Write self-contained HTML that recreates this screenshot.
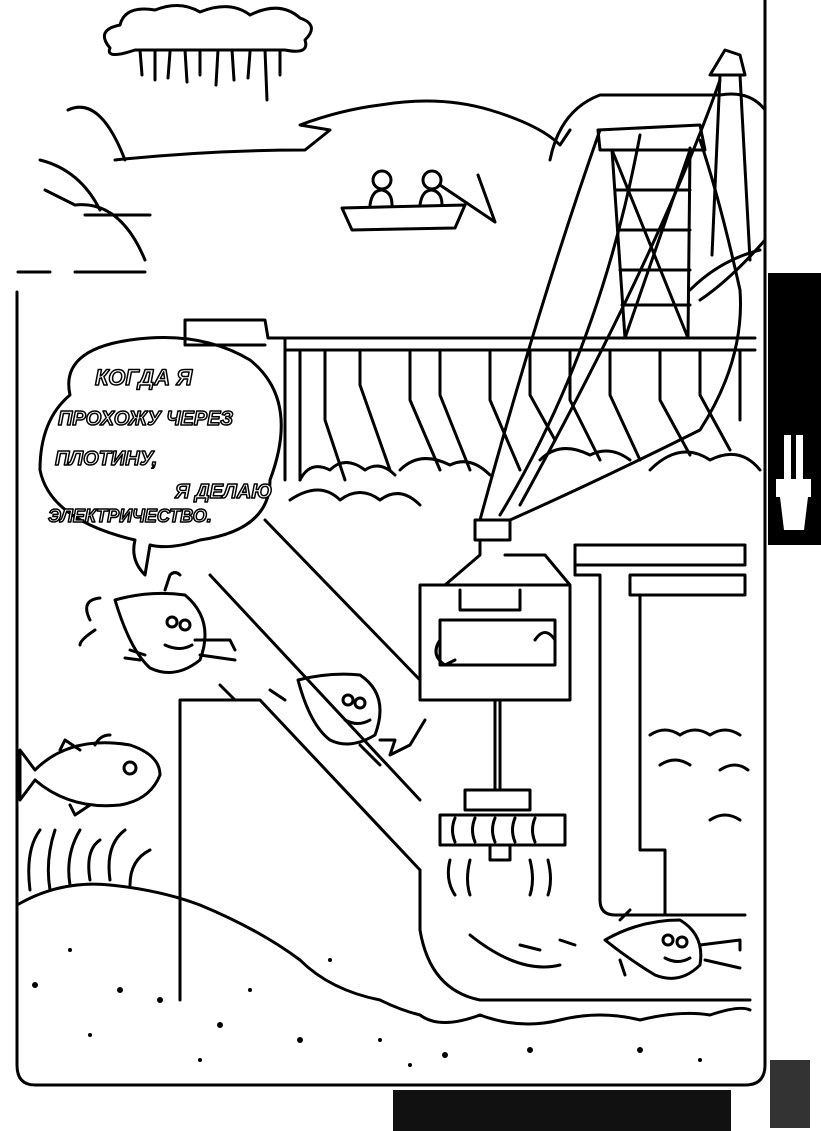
<!DOCTYPE html>
<html><head><meta charset="utf-8"><style>
html,body{margin:0;padding:0;background:#fff;width:821px;height:1131px;overflow:hidden}
svg{display:block}
</style></head><body>
<svg width="821" height="1131" viewBox="0 0 821 1131" xmlns="http://www.w3.org/2000/svg" fill="none" stroke="#000" stroke-width="3" stroke-linecap="round" stroke-linejoin="round">
<rect x="768" y="273" width="53" height="272" fill="#000" stroke="none"/>
<rect x="393" y="1090" width="338" height="41" fill="#111" stroke="none"/>
<rect x="770" y="1060" width="40" height="68" fill="#333" stroke="none"/>
<g fill="#fff" stroke="none">
<rect x="784" y="435" width="7" height="45"/><rect x="796" y="435" width="7" height="45"/>
<rect x="776" y="479" width="35" height="18"/>
<path d="M780 497 L808 497 L804 530 L784 530 Z"/>
</g>
<path d="M765 0 L765 1065 Q765 1085 745 1085 L35 1085 Q17 1085 17 1065 L17 292"/>
<path d="M110 48 Q95 30 120 25 Q125 5 155 10 Q180 0 200 12 Q230 0 250 15 Q280 0 300 18 Q320 25 305 40 Q310 55 285 50 L135 50 Q105 60 110 48 Z"/>
<path d="M140 50 L142 75 M155 50 L155 80 M170 52 L168 78 M185 50 L187 82 M200 52 L200 75 M218 50 L216 85 M232 50 L234 80 M250 52 L248 78 M265 50 L267 100 M280 50 L280 75"/>
<path d="M68 110 Q100 95 125 160 M115 160 Q210 150 305 150 L330 130 L300 125 Q340 110 380 105 Q440 95 490 110 Q540 125 560 145 L570 130"/>
<path d="M40 160 Q80 170 100 210 M45 190 L75 205 M75 205 Q120 200 145 260 M85 215 L150 215 M18 272 L50 272 M75 272 L145 272"/>
<path d="M550 160 Q560 110 600 95 L720 95 Q750 90 765 110"/>
<path d="M342 208 L465 205 L455 228 L352 230 Z"/>
<circle cx="382" cy="180" r="9"/><circle cx="432" cy="180" r="9"/>
<path d="M370 205 Q372 190 382 190 Q392 192 392 205 M420 205 Q422 190 432 190 Q442 192 442 205 M440 185 L495 222 M478 175 L495 222"/>
<path d="M598 130 L700 125 L705 150 L600 150 Z M612 150 L625 338 M690 148 L688 338 M615 190 L690 190 M618 230 L690 230 M620 270 L690 270 M622 305 L690 305 M612 150 L688 338 M690 150 L625 338"/>
<path d="M710 75 L745 75 L740 55 L725 50 L710 75 Z M720 75 L712 255 M740 75 L750 260"/>
<path d="M600 130 Q540 300 480 520 M640 135 Q600 350 500 515 M720 80 Q660 250 520 505 M700 140 Q720 200 740 290 Q745 360 700 430 Q600 480 510 520"/>
<path d="M690 290 Q720 260 760 250 M700 300 Q730 280 765 240"/>
<path d="M185 320 L265 320 L268 338 L285 338 L285 480 M185 320 L185 345 L265 345"/>
<path d="M285 338 L755 338 M285 350 L755 350"/>
<path d="M300 350 L300 480 M325 350 L325 420 L345 480 M360 350 L360 385 L390 470 M410 350 L410 400 L440 470 M440 350 L440 395 L470 470 M490 350 L490 400 L520 470 M530 350 L530 395 L555 440 M570 350 L570 400 L600 460 M610 350 L610 395 L640 460 M660 350 L660 400 L690 455 M700 350 L700 395 L730 450 M740 350 L740 420"/>
<path d="M300 480 Q310 460 330 470 Q345 455 365 470 Q380 460 395 475 M400 470 Q420 450 450 465 Q470 455 490 475 M540 460 Q560 440 590 455 Q610 445 630 460 M650 470 Q680 440 710 460 Q740 445 760 470 M290 500 Q320 480 340 500 Q360 485 380 500 Q400 485 420 505"/>
<path d="M70 395 Q60 350 130 340 Q200 330 250 360 Q300 400 270 480 Q270 530 200 540 Q170 550 150 545 L145 575 Q130 560 135 540 Q50 520 40 470 Q40 420 70 395 Z"/>
<g stroke="none" fill="#000" font-family="Liberation Sans, sans-serif" font-weight="bold" font-style="italic">
<text x="95" y="385" font-size="22" fill="#fff" stroke="#000" stroke-width="1.5">КОГДА Я</text>
<text x="58" y="425" font-size="20" fill="#fff" stroke="#000" stroke-width="1.5">ПРОХОЖУ ЧЕРЕЗ</text>
<text x="55" y="465" font-size="20" fill="#fff" stroke="#000" stroke-width="1.5">ПЛОТИНУ,</text>
<text x="175" y="498" font-size="20" fill="#fff" stroke="#000" stroke-width="1.5">Я ДЕЛАЮ</text>
<text x="48" y="522" font-size="18" fill="#fff" stroke="#000" stroke-width="1.5">ЭЛЕКТРИЧЕСТВО.</text>
</g>
<path d="M265 520 L420 680 M210 575 L420 800 M180 700 L180 1000 M180 700 L260 700 L420 870"/>
<path d="M475 520 L510 520 L510 540 L475 540 Z M480 540 L480 555 L445 585 L420 585 L420 700 L570 700 L570 585 L545 555 L505 555 M420 585 L570 585 M460 590 L460 610 L520 610 L520 590 M440 620 L555 620 L555 665 L440 665 Z M495 700 L495 790 M500 700 L500 790"/>
<path d="M440 640 Q430 655 445 665 L455 660 M555 640 Q545 625 535 640"/>
<path d="M465 790 L530 790 L530 810 L465 810 Z M440 815 L565 815 L565 845 L440 845 Z M455 818 Q450 830 455 842 M475 818 Q470 830 475 842 M495 818 Q490 830 495 842 M515 818 Q510 830 515 842 M535 818 Q530 830 535 842 M490 845 L510 845 L510 860 L490 860 Z"/>
<path d="M450 860 Q445 880 455 895 M470 860 Q465 880 470 895 M530 860 Q535 880 530 895 M548 860 Q553 880 548 895"/>
<path d="M575 545 L745 545 L745 565 L575 565 M575 545 L575 575 L600 575 L600 900 Q600 915 615 915 L745 915 M630 575 L745 575 L745 595 L630 595 Z M640 595 L640 850 L665 850 L665 915 M420 870 L420 930 Q430 990 480 1000 L750 1000 M470 935 Q520 975 560 965 M520 945 L540 950"/>
<path d="M650 735 Q665 725 680 735 Q695 725 710 735 Q725 725 740 735 M660 765 Q675 755 690 765 M720 770 Q735 760 748 770 M710 820 Q725 810 740 820"/>
<path d="M17 905 Q60 880 110 885 Q160 890 200 905 Q260 930 300 960 Q330 990 380 1000 Q400 1010 420 1015 Q440 1030 480 1015 Q520 1030 560 1020 Q600 1010 640 1020 Q680 1010 710 1015 Q740 1005 750 1010"/>
<path d="M30 890 Q25 850 40 830 M50 890 Q45 860 55 830 M70 885 Q65 855 80 830 M90 880 Q85 850 100 840 M110 880 Q105 845 125 830 M130 885 Q130 860 150 850"/>
<g fill="#000" stroke="none"><circle cx="35" cy="985" r="3"/><circle cx="120" cy="990" r="3"/><circle cx="160" cy="1000" r="3"/><circle cx="220" cy="1025" r="3"/><circle cx="300" cy="1040" r="3"/><circle cx="70" cy="950" r="2"/><circle cx="90" cy="1035" r="2"/><circle cx="250" cy="990" r="2"/><circle cx="330" cy="960" r="2"/><circle cx="380" cy="1040" r="2"/><circle cx="445" cy="1055" r="3"/><circle cx="530" cy="1050" r="3"/><circle cx="640" cy="1050" r="3"/><circle cx="700" cy="1060" r="2"/><circle cx="200" cy="1060" r="2"/><circle cx="410" cy="1065" r="2"/></g>
<path d="M35 770 Q70 735 130 745 Q160 755 160 775 Q150 800 120 805 Q70 810 35 780 L20 800 L20 750 Z M60 750 L65 740 L80 750 M95 745 Q100 735 110 735 M70 805 L75 815 L90 805"/>
<circle cx="130" cy="768" r="6"/>
<path d="M115 600 Q150 590 185 595 Q215 620 200 660 Q175 680 150 668 Q130 650 115 600 Z"/>
<circle cx="172" cy="622" r="5"/><circle cx="185" cy="625" r="5"/>
<path d="M165 645 Q180 652 192 645 M130 650 L145 655 M125 658 L140 660 M195 640 L230 640 L235 650 M200 655 L235 660 M165 590 L170 575 Q175 570 180 575"/>
<path d="M298 680 Q330 672 360 675 Q390 695 375 735 Q350 750 330 740 Q310 725 298 680 Z"/>
<circle cx="348" cy="700" r="5"/><circle cx="360" cy="703" r="5"/>
<path d="M345 720 Q358 727 370 720 M360 745 L380 765 M380 740 L395 740 L390 755 L410 745 L425 720"/>
<path d="M605 940 Q640 920 680 920 Q705 935 700 965 Q680 985 655 975 Q630 960 605 940 Z"/>
<circle cx="668" cy="940" r="5"/><circle cx="682" cy="942" r="5"/>
<path d="M665 958 Q678 965 690 958 M700 945 L740 940 L740 950 M705 960 L740 968 M620 920 L630 910 M620 960 L625 975"/>
<path d="M100 598 Q80 600 90 620 M95 630 Q80 640 80 645 M220 685 Q230 695 235 700 M270 690 L285 700 M560 940 L575 945"/>
</svg>
</body></html>
